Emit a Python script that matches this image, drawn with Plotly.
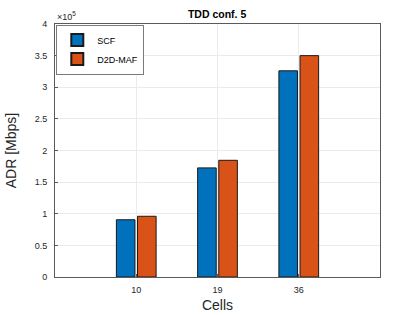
import plotly.graph_objects as go

categories = ["10", "19", "36"]
scf = [90500, 172500, 326000]
d2d_maf = [96000, 184500, 350000]
ytick_vals = [0, 50000, 100000, 150000, 200000, 250000, 300000, 350000, 400000]
ytick_text = ["0", "0.5", "1", "1.5", "2", "2.5", "3", "3.5", "4"]

xpos = [1, 2, 3]
font = "Liberation Sans, Arial, sans-serif"

fig = go.Figure()
fig.add_trace(go.Bar(x=xpos, y=scf, name="SCF", marker=dict(color="#0072BD", line=dict(color="#1a1a1a", width=1))))
fig.add_trace(go.Bar(x=xpos, y=d2d_maf, name="D2D-MAF", marker=dict(color="#D95319", line=dict(color="#1a1a1a", width=1))))

fig.update_layout(
    width=420, height=315,
    margin=dict(l=55, r=40, t=24, b=38, autoexpand=False),
    paper_bgcolor="white", plot_bgcolor="white",
    barmode="group", bargap=0.48, bargroupgap=0.12,
    font=dict(family=font, color="#262626", size=9),
    title=dict(text="<b>TDD conf. 5</b>", x=0.517, xanchor="center", y=0.955, yref="container",
               yanchor="middle", font=dict(size=10.5, color="black"), automargin=False),
    showlegend=True,
    legend=dict(x=0.004, y=0.998, xanchor="left", yanchor="top", bgcolor="white",
                bordercolor="#7a7a7a", borderwidth=1, font=dict(size=9, color="black"),
                tracegroupgap=0, itemwidth=30, itemsizing="constant"),
)
fig.update_xaxes(
    range=[0, 4], tickvals=xpos, ticktext=categories,
    showgrid=True, gridcolor="#ebebeb", showline=True, linecolor="#5a5a5a", mirror=True,
    ticks="inside", ticklen=3, tickcolor="#5a5a5a", ticklabelstandoff=4,
    title=dict(text="Cells", font=dict(size=14, color="#262626"), standoff=6),
    zeroline=False,
)
fig.update_yaxes(
    range=[0, 400000], tickvals=ytick_vals, ticktext=ytick_text,
    showgrid=True, gridcolor="#ebebeb", showline=True, linecolor="#5a5a5a", mirror=True,
    ticks="inside", ticklen=3, tickcolor="#5a5a5a", ticklabelstandoff=5,
    title=dict(text="ADR [Mbps]", font=dict(size=14, color="#262626"), standoff=14),
    zeroline=False,
)
fig.add_annotation(text="×10<sup>5</sup>", xref="paper", yref="paper", x=0.0, y=1.0,
                   xanchor="left", yanchor="bottom", showarrow=False,
                   font=dict(size=9, color="#262626"))
fig.write_html("out.html", config={"displayModeBar": False},
               post_script="document.body.style.margin='0';document.body.style.overflow='hidden';")
